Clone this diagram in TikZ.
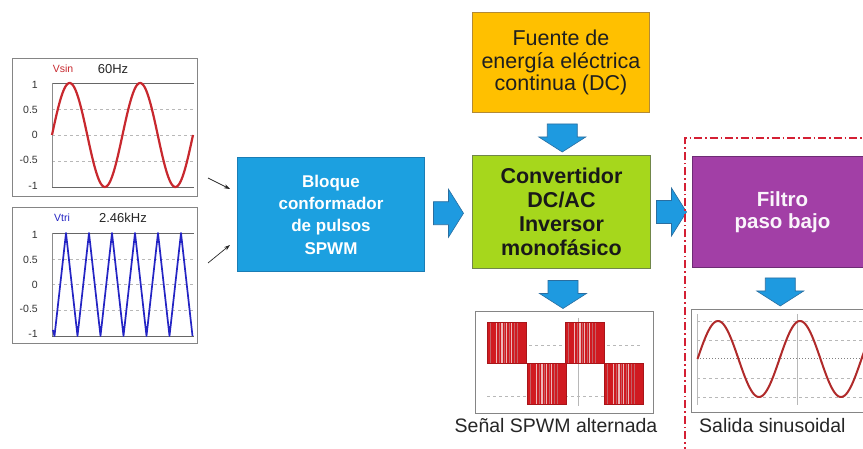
\documentclass[tikz,border=0pt]{standalone}
\usepackage{fontspec}
\setmainfont{Liberation Sans}
\usetikzlibrary{calc,arrows.meta}
\definecolor{blueC}{HTML}{1CA0E0}
\definecolor{blueD}{HTML}{1A7DB5}
\definecolor{arrowC}{HTML}{1E9AE0}
\definecolor{arrowD}{HTML}{2A6EA0}
\definecolor{orangeC}{HTML}{FFC000}
\definecolor{orangeD}{HTML}{B38A35}
\definecolor{greenC}{HTML}{A6D71C}
\definecolor{greenD}{HTML}{70864A}
\definecolor{purpC}{HTML}{A23FA6}
\definecolor{purpD}{HTML}{6E2C74}
\definecolor{sinC}{HTML}{C8282E}
\definecolor{sinD}{HTML}{B02A2A}
\definecolor{triC}{HTML}{2424C4}
\definecolor{frameC}{HTML}{858585}
\definecolor{gridC}{HTML}{B8B8B8}
\definecolor{pwmC}{HTML}{D01A20}
\definecolor{pwmM}{HTML}{C46066}
\definecolor{pwmL}{HTML}{EDB6B8}
\definecolor{dashC}{HTML}{D42034}
\begin{document}
\begin{tikzpicture}[x=1pt,y=-1pt,
  frame/.style={draw=frameC, fill=white, line width=1pt, inner sep=0pt, anchor=north west},
  box/.style={line width=1pt, inner sep=0pt, anchor=north west, align=center},
  barrow/.style={fill=arrowC, draw=arrowD, line width=0.6pt},
  gridl/.style={draw=gridC, dashed, line width=0.6pt},
  axisl/.style={draw=black!60, line width=0.9pt},
  tick/.style={anchor=east, inner sep=0pt, font=\fontsize{10.5}{12}\selectfont, text=black!80},
  smallarrow/.style={-{Stealth[length=6pt,width=4pt]}, line width=0.7pt, draw=black!85},
  lbl/.style={font=\fontsize{19.5}{22}\selectfont, text=black!85, inner sep=0pt},
  rblock/.pic={\path[barrow] (-15,-11.5) -- (0,-11.5) -- (0,-24) -- (15,0) -- (0,24) -- (0,11.5) -- (-15,11.5) -- cycle;},
  dblock/.pic={\path[barrow] (-15,-14) -- (15,-14) -- (15,-1) -- (23.5,-1) -- (0,14) -- (-23.5,-1) -- (-15,-1) -- cycle;}
]
\useasboundingbox (0,0) rectangle (863,449);
\clip (0,0) rectangle (863,449);
\fill[white] (0,0) rectangle (863,449);

% ---------- Vsin plot ----------
\node[frame, minimum width=185pt, minimum height=138pt] (sinplot) at (12,58) {};
\draw[gridl] (52,109) -- (194,109) (52,135) -- (194,135) (52,161) -- (194,161);
\draw[axisl] (52,83) -- (194,83) (52,187) -- (194,187);
\draw[draw=black!45, line width=0.7pt] (52,83) -- (52,187);
\node[tick] (s1) at (38,85) {1};
\node[tick] (s2) at (38,110) {0.5};
\node[tick] (s3) at (38,135) {0};
\node[tick] (s4) at (38,160) {-0.5};
\node[tick] (s5) at (38,186) {-1};
\node[font=\fontsize{10.5}{12}\selectfont, text=sinC, inner sep=0pt] (vsin) at (63,69) {Vsin};
\node[font=\fontsize{13}{14}\selectfont, text=black!85, inner sep=0pt] (f60) at (113,69) {60Hz};
\draw[sinC, line width=2.2pt] plot[domain=0:720, samples=140] ({52+\x/720*141},{135-52*sin(\x)});

% ---------- Vtri plot ----------
\node[frame, minimum width=185pt, minimum height=136pt] (triplot) at (12,207) {};
\draw[gridl] (52,259) -- (194,259) (52,284.5) -- (194,284.5) (52,310) -- (194,310);
\draw[axisl] (52,233) -- (194,233) (52,336) -- (194,336);
\draw[draw=black!45, line width=0.7pt] (52,233) -- (52,336);
\node[tick] (t1) at (38,235) {1};
\node[tick] (t2) at (38,260) {0.5};
\node[tick] (t3) at (38,284.5) {0};
\node[tick] (t4) at (38,309) {-0.5};
\node[tick] (t5) at (38,334) {-1};
\node[font=\fontsize{10.5}{12}\selectfont, text=triC, inner sep=0pt] (vtri) at (62,218) {Vtri};
\node[font=\fontsize{13}{14}\selectfont, text=black!85, inner sep=0pt] (f246) at (123,218) {2.46kHz};
\draw[triC, line width=1.7pt, line join=round] (53,330) -- (54.5,336)
  \foreach \k in {0,...,5} { -- ({66+23*\k},233) -- ({77.5+23*\k},336) };

% ---------- main blocks ----------
\node[box, fill=blueC, draw=blueD, minimum width=187pt, minimum height=114pt,
      font=\fontsize{17}{22.3}\selectfont\bfseries, text=white] (blue) at (237,157)
      {Bloque\\conformador\\de pulsos\\SPWM};
\node[box, fill=orangeC, draw=orangeD, minimum width=177pt, minimum height=100pt,
      font=\fontsize{21.5}{22.5}\selectfont, text=black!88] (orange) at (472,12)
      {Fuente de\\energía eléctrica\\continua (DC)};
\node[box, fill=greenC, draw=greenD, minimum width=178pt, minimum height=113pt,
      font=\fontsize{21.5}{24}\selectfont\bfseries, text=black!90] (green) at (472,155)
      {Convertidor\\DC/AC\\Inversor\\monofásico};
\node[box, fill=purpC, draw=purpD, minimum width=180pt, minimum height=111pt,
      font=\fontsize{20.5}{22}\selectfont\bfseries, text=white!95!purpC] (purple) at (692,156)
      {Filtro\\paso bajo};

% ---------- small input arrows ----------
\coordinate (a1s) at (208,178);
\coordinate (a1e) at (230,189);
\coordinate (a2s) at (208,263);
\coordinate (a2e) at (230,245);
\draw[smallarrow] (a1s) -- (a1e);
\draw[smallarrow] (a2s) -- (a2e);

% ---------- SPWM plot ----------
\node[frame, minimum width=178pt, minimum height=102pt] (spwm) at (475,311) {};
\draw[gridl] (487,345) -- (642,345) (487,396) -- (642,396);
\draw[draw=gridC, line width=0.6pt] (578,318) -- (578,406) (487,363) -- (642,363);
\foreach \a/\s in {487/-1, 527/1, 565/-1, 604/1} {
  \fill[pwmL] ({\a},363) rectangle ({\a+39},{363+41*\s});
  \foreach \o/\w in {3.2/1.0, 6.6/0.8, 12.2/1.0, 16.8/1.4, 21.6/0.8, 27.4/1.0, 30/1.0} {
    \fill[pwmM] ({\a+\o},363) rectangle ({\a+\o+\w},{363+41*\s});
  }
  \foreach \o/\w in {0/3.2, 4.2/2.4, 7.4/1.6, 10/2.2, 13.2/1.2, 15.6/1.2, 18.2/1.0, 20.4/1.2, 23/1.2, 25.2/2.2, 28.4/1.6, 31/2.6, 34.2/4.8} {
    \fill[pwmC] ({\a+\o},363) rectangle ({\a+\o+\w},{363+41*\s});
  }
  \draw[pwmC!80!black, line width=0.6pt] ({\a},363) rectangle ({\a+39},{363+41*\s});
}
\node[lbl, anchor=base] (spwmlbl) at (556,432) {Señal SPWM alternada};

% ---------- output sine plot ----------
\node[frame, minimum width=185pt, minimum height=103pt] (sinout) at (691,309) {};
\draw[gridl] (697,321) -- (870,321) (697,340) -- (870,340) (697,378) -- (870,378) (697,397) -- (870,397);
\draw[draw=black!50, dotted, line width=1pt] (697,359) -- (870,359);
\draw[draw=gridC, line width=0.6pt] (697,314) -- (697,405) (797,314) -- (797,405);
\draw[sinD, line width=2pt] plot[domain=0:760, samples=140] ({697.5+\x/360*82},{359-38*sin(\x)});
\node[lbl, anchor=base west] (outlbl) at (699,432) {Salida sinusoidal};

% ---------- block arrows ----------
\pic at ($(blue.east)!0.5!(green.west)$) {rblock};
\pic at ($(green.east)!0.5!(purple.west)$) {rblock};
\pic at ($(orange.south)!0.5!(green.north) + (1,4)$) {dblock};
\pic at ($(green.south)!0.5!(spwm.north) + (0,4.5)$) {dblock};
\pic at ($(purple.south)!0.5!(sinout.north) + (-3,3.5)$) {dblock};

% ---------- filter region ----------
\draw[dashC, line width=1.2pt, dash pattern=on 8pt off 3pt on 1.5pt off 3pt] (685,470) -- (685,138) -- (880,138);
\end{tikzpicture}
\end{document}
